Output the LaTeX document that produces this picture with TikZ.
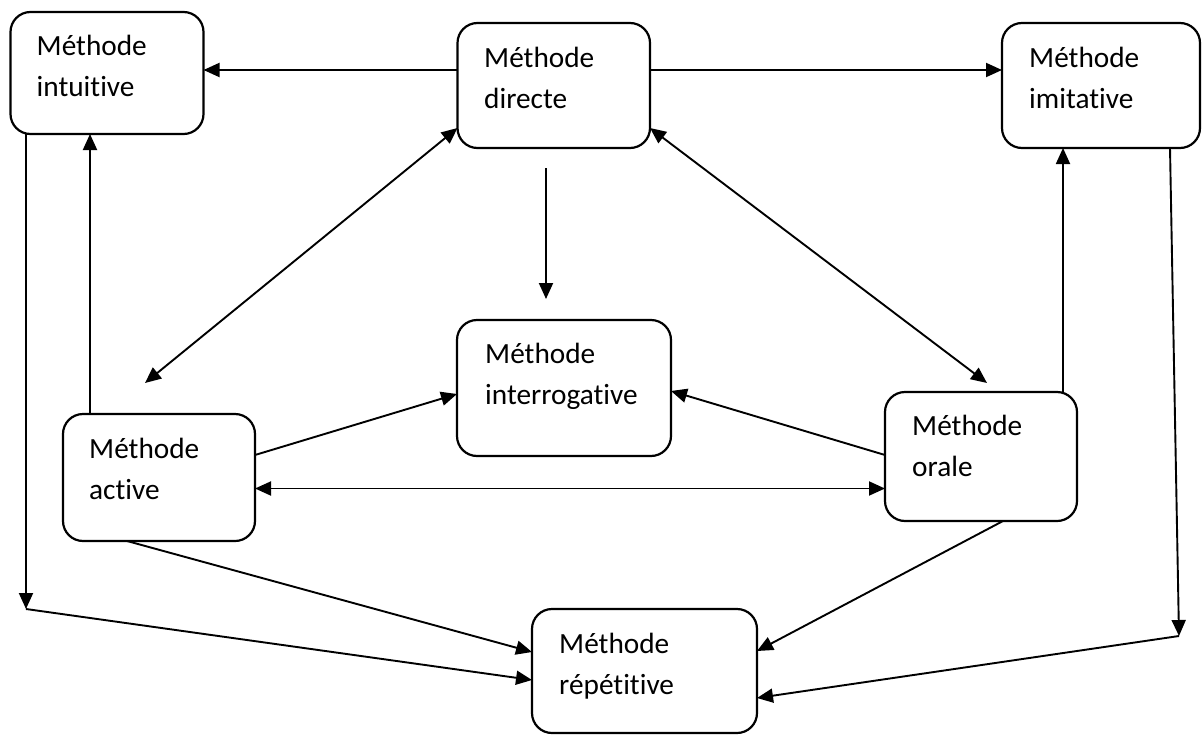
\documentclass[tikz,border=0pt]{standalone}
\usepackage{fontspec}
\setmainfont{Carlito}[Ligatures=NoCommon]
\usetikzlibrary{arrows.meta,calc}
\begin{document}
\begin{tikzpicture}[x=1pt,y=-1pt,
  box/.style={draw=black,line width=2.2pt,rounded corners=20pt,minimum width=#1,inner sep=0pt,outer sep=0pt},
  lbl/.style={anchor=base west,inner sep=0pt,font=\fontsize{29.3}{41}\selectfont},
  arr/.style={line width=1.9pt,-{Triangle[length=16pt,width=14pt]}},
  darr/.style={line width=1.9pt,{Triangle[length=16pt,width=14pt]}-{Triangle[length=16pt,width=14pt]}}]
\useasboundingbox (0,0) rectangle (1202,736);
\fill[white] (0,0) rectangle (1202,736);
% boxes
\node[box=193pt,minimum height=122pt] (intuitive) at (107,73) {};
\node[box=192.5pt,minimum height=125pt] (directe) at (553.75,85.5) {};
\node[box=198pt,minimum height=125pt] (imitative) at (1101,85.5) {};
\node[box=214pt,minimum height=136pt] (interrogative) at (564,388) {};
\node[box=192pt,minimum height=127pt] (active) at (159,477.5) {};
\node[box=192pt,minimum height=129pt] (orale) at (981,456.5) {};
\node[box=225pt,minimum height=124pt] (repetitive) at (644.5,671) {};
% labels
\node[lbl] (t1) at ($(intuitive.north west)+(26,43)$) {\begin{tabular}[t]{@{}l@{}}Méthode\\intuitive\end{tabular}};
\node[lbl] (t2) at ($(directe.north west)+(26.5,44)$) {\begin{tabular}[t]{@{}l@{}}Méthode\\directe\end{tabular}};
\node[lbl] (t3) at ($(imitative.north west)+(27,44)$) {\begin{tabular}[t]{@{}l@{}}Méthode\\imitative\end{tabular}};
\node[lbl] (t4) at ($(interrogative.north west)+(28,43)$) {\begin{tabular}[t]{@{}l@{}}Méthode\\interrogative\end{tabular}};
\node[lbl] (t5) at ($(active.north west)+(26,44)$) {\begin{tabular}[t]{@{}l@{}}Méthode\\active\end{tabular}};
\node[lbl] (t6) at ($(orale.north west)+(27,43)$) {\begin{tabular}[t]{@{}l@{}}Méthode\\orale\end{tabular}};
\node[lbl] (t7) at ($(repetitive.north west)+(27,44)$) {\begin{tabular}[t]{@{}l@{}}Méthode\\répétitive\end{tabular}};
% corner points of the elbow connectors
\coordinate (cl) at ($(intuitive.south)+(-81,475)$);
\coordinate (cr) at ($(imitative.south)+(78,488)$);
% connectors
\draw[arr] ([yshift=15.5pt]directe.west) -- ([yshift=3pt]intuitive.east);
\draw[arr] ([yshift=15.5pt]directe.east) -- ([yshift=15.5pt]imitative.west);
\draw[darr] ([xshift=-14pt,yshift=31pt]active.north) -- ([yshift=-42.5pt]directe.west);
\draw[arr] ([xshift=-7.75pt,yshift=-20pt]directe.south) -- ([xshift=-18pt,yshift=21pt]interrogative.north);
\draw[darr] ([yshift=-42.5pt]directe.east) -- ([xshift=6pt,yshift=9pt]orale.north);
\draw[arr] ([xshift=-69pt]active.north) -- ([xshift=-17pt]intuitive.south);
\draw[arr] ([xshift=82pt]orale.north) -- ([xshift=-38pt]imitative.south);
\draw[arr] ([yshift=22.5pt]active.east) -- ([yshift=-6pt]interrogative.west);
\draw[arr] ([yshift=1.5pt]orale.west) -- ([yshift=-3pt]interrogative.east);
\draw[darr] ([yshift=-11pt]active.east) -- ([yshift=-32pt]orale.west);
\draw[arr] ([xshift=-81pt]intuitive.south) -- (cl);
\draw[arr] (cl) -- ([yshift=-9pt]repetitive.west);
\draw[arr] ([xshift=-32pt]active.south) -- ([yshift=19pt]repetitive.west);
\draw[arr] ([xshift=22pt]orale.south) -- ([yshift=20pt]repetitive.east);
\draw[arr] ([xshift=69pt]imitative.south) -- (cr);
\draw[arr] (cr) -- ([yshift=-27pt]repetitive.east);
\end{tikzpicture}
\end{document}
